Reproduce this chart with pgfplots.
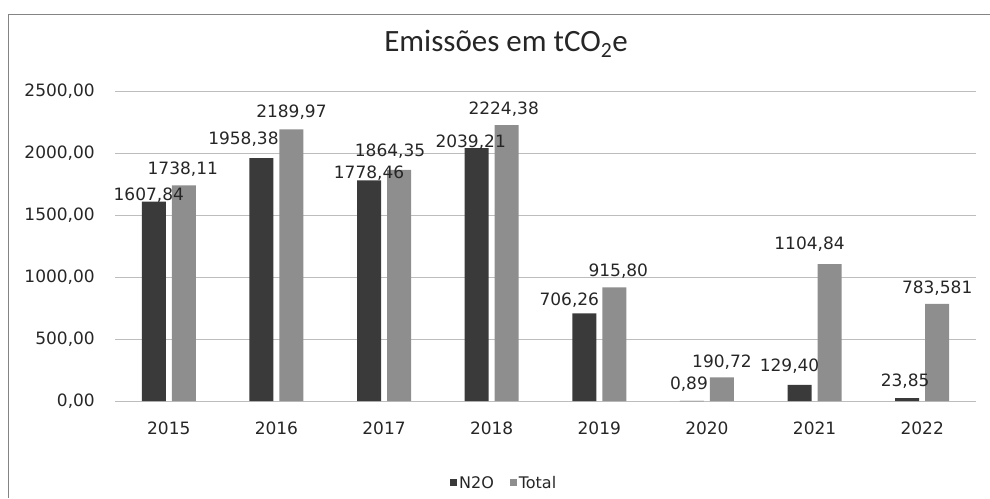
\documentclass[border=0pt]{standalone}
\usepackage{fontspec}
\setmainfont{DejaVu Sans}
\newfontfamily\titlefont{Carlito}
\usepackage{pgfplots}
\usepackage{pgfplotstable}
\pgfplotsset{compat=1.18}
\definecolor{ntwo}{HTML}{3A3A3A}
\definecolor{tot}{HTML}{8E8E8E}
\definecolor{gridc}{HTML}{BDBDBD}
\definecolor{txt}{HTML}{262626}

\pgfplotstableread{
x y label dx dy
0 1607.84 {1607,84} -5 7
1 1958.38 {1958,38} -18 20
2 1778.46 {1778,46} 0 8
3 2039.21 {2039,21} -6 7
4 706.26 {706,26} -15 14
5 0.89 {0,89} -3 17.5
6 129.40 {129,40} -10 20
7 23.85 {23,85} -2 18
}\ntwodata

\pgfplotstableread{
x y label dx dy
0 1738.11 {1738,11} -1 17.5
1 2189.97 {2189,97} 0 18
2 1864.35 {1864,35} -9 20
3 2224.38 {2224,38} -3 17
4 915.80 {915,80} 4 17
5 190.72 {190,72} 0 16
6 1104.84 {1104,84} -20 21
7 783.58 {783,581} 0 17
}\totdata

\begin{document}
\begin{tikzpicture}
\path[use as bounding box] (0pt,0pt) rectangle (990pt,498pt);
\draw[gridc!70!black, line width=0.8pt] (8pt,0pt) -- (8pt,484pt) -- (990pt,484pt);
\begin{axis}[
  at={(115pt,97pt)}, anchor=south west,
  scale only axis, width=861pt, height=310pt,
  xmin=-0.5, xmax=7.5, ymin=0, ymax=2500,
  ybar=6pt, bar width=24pt,
  xtick={0,1,2,3,4,5,6,7},
  xticklabels={2015,2016,2017,2018,2019,2020,2021,2022},
  ytick={0,500,1000,1500,2000,2500},
  scaled y ticks=false,
  axis line style={draw=none},
  major tick length=0pt,
  ymajorgrids, grid style={gridc, line width=0.8pt},
  /pgf/number format/assume math mode=true,
  tick label style={font=\fontsize{17}{17}\selectfont, text=txt},
  yticklabel style={/pgf/number format/fixed, /pgf/number format/fixed zerofill, /pgf/number format/precision=2, /pgf/number format/use comma, /pgf/number format/1000 sep={}, inner sep=0pt, xshift=-20pt},
  xticklabel style={anchor=north, inner sep=0pt, yshift=-21pt},
  legend style={draw=none, fill=none, legend columns=2, at={(axis description cs:0.452,-0.2645)}, anchor=center, font=\fontsize{16}{16}\selectfont, text=txt, /tikz/every even column/.append style={column sep=14pt}},
  legend image code/.code={\fill[#1] (0pt,-3.5pt) rectangle (7pt,3.5pt);},
  nodes near coords style={anchor=center, font=\fontsize{17}{17}\selectfont, text=txt, inner sep=0pt, text height=12.4pt, text depth=0pt},
]
\addplot[fill=ntwo, draw=none, nodes near coords, point meta=explicit symbolic,
  visualization depends on={\thisrow{dx}\as\dx},
  visualization depends on={\thisrow{dy}\as\dy},
  every node near coord/.append style={xshift=\dx pt, yshift=\dy pt}]
  table[x=x, y=y, meta=label]{\ntwodata};
\addplot[fill=tot, draw=none, nodes near coords, point meta=explicit symbolic,
  visualization depends on={\thisrow{dx}\as\dx},
  visualization depends on={\thisrow{dy}\as\dy},
  every node near coord/.append style={xshift=\dx pt, yshift=\dy pt}]
  table[x=x, y=y, meta=label]{\totdata};
\legend{N2O, Total}
\end{axis}
\node[anchor=base, font=\titlefont\fontsize{31}{31}\selectfont, text=txt] at (506pt,446pt) {Emissões em tCO\textsubscript{2}e};
\end{tikzpicture}
\end{document}
